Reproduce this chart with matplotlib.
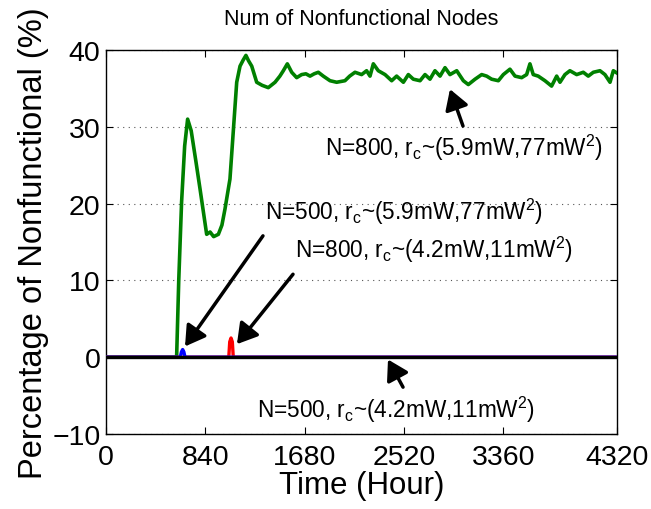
import matplotlib
matplotlib.use("Agg")
import matplotlib.pyplot as plt

plt.rcParams['font.family'] = ['Liberation Sans', 'DejaVu Sans']
plt.rcParams['mathtext.fontset'] = 'custom'
plt.rcParams['mathtext.rm'] = 'Liberation Sans'
plt.rcParams['mathtext.it'] = 'Liberation Sans'

# N=800, rc~(5.9mW,77mW^2)
green_h = [0, 597, 615, 639, 665, 690, 720, 760, 795, 851, 880, 910, 950, 980, 1006, 1048,
           1105, 1133, 1160, 1183, 1205, 1232, 1274, 1320, 1372, 1429, 1470, 1499, 1533,
           1570, 1612, 1654, 1690, 1725, 1760, 1795, 1837, 1894, 1950, 2020, 2060, 2105,
           2161, 2203, 2232, 2260, 2302, 2359, 2415, 2457, 2514, 2556, 2598, 2655, 2697,
           2739, 2781, 2824, 2866, 2908, 2965, 3021, 3063, 3120, 3176, 3218, 3260, 3317,
           3359, 3415, 3458, 3514, 3556, 3584, 3612, 3654, 3711, 3767, 3810, 3838, 3880,
           3922, 3979, 4035, 4077, 4120, 4176, 4218, 4261, 4289, 4320]
green_v = [0, 0, 10.0, 20.2, 27.5, 31.0, 29.5, 25.5, 21.9, 16.0, 16.3, 15.7, 16.0, 17.2,
           19.3, 23.2, 35.8, 37.9, 38.7, 39.3, 38.6, 37.9, 35.8, 35.4, 35.1, 35.8, 36.6,
           37.3, 38.2, 37.1, 36.4, 36.8, 36.9, 36.6, 36.9, 37.1, 36.6, 36.0, 35.8, 36.0,
           36.6, 37.1, 36.8, 37.3, 36.6, 38.2, 37.3, 36.8, 36.0, 36.6, 35.8, 36.8, 36.2,
           36.0, 36.8, 36.2, 37.3, 36.6, 37.7, 36.8, 37.3, 36.0, 35.5, 36.2, 36.8, 36.6,
           36.2, 36.0, 36.8, 37.5, 36.6, 36.4, 36.8, 38.2, 36.8, 36.6, 36.0, 35.3, 36.6,
           35.8, 36.8, 37.3, 36.8, 37.1, 36.6, 37.1, 37.3, 36.8, 35.8, 37.3, 37.0]

# N=500, rc~(5.9mW,77mW^2)
blue_h = [0, 628, 638, 648, 658, 668, 4320]
blue_v = [0, 0, 0.7, 1.0, 0.7, 0, 0]

# N=800, rc~(4.2mW,11mW^2)
red_h = [0, 1038, 1046, 1057, 1068, 1076, 4320]
red_v = [0, 0, 2.0, 2.5, 2.0, 0, 0]

# N=500, rc~(4.2mW,11mW^2)
black_h = [0, 4320]
black_v = [0, 0]

xticks = [0, 840, 1680, 2520, 3360, 4320]
yticks = [-10, 0, 10, 20, 30, 40]

fig = plt.figure(figsize=(6.51, 5.10), dpi=100)
ax = fig.add_axes([106/651, 1-435/510, 511/651, 384/510])

ax.plot(green_h, green_v, color='#008000', lw=2.6, zorder=3)
ax.plot(red_h, red_v, color='red', lw=2.4, zorder=4)
ax.plot(blue_h, blue_v, color='blue', lw=2.4, zorder=4)
ax.plot(black_h, black_v, color='black', lw=2.4, zorder=5)

ax.set_xlim(0, 4320)
ax.set_ylim(-10, 40)
ax.set_xticks(xticks)
ax.set_yticks(yticks)
ax.tick_params(direction='in', length=5, width=0.8, top=True, right=True,
               labelsize=20.5)
ax.tick_params(axis='x', pad=7)
ax.tick_params(axis='y', pad=4)
ax.yaxis.grid(True, linestyle=(0, (1, 4)), color='#555555', lw=0.8)
for s in ax.spines.values():
    s.set_linewidth(1.0)

ax.set_title('Num of Nonfunctional Nodes', fontsize=15.5, pad=19)
ax.set_xlabel('Time (Hour)', fontsize=22.5, labelpad=0)
ax.set_ylabel('Percentage of Nonfunctional (%)', fontsize=23.5, labelpad=2)

lab1 = r'N=800, r$_\mathregular{c}$~(5.9mW,77mW$^\mathregular{2}$)'
lab2 = r'N=500, r$_\mathregular{c}$~(5.9mW,77mW$^\mathregular{2}$)'
lab3 = r'N=800, r$_\mathregular{c}$~(4.2mW,11mW$^\mathregular{2}$)'
lab4 = r'N=500, r$_\mathregular{c}$~(4.2mW,11mW$^\mathregular{2}$)'

tfs = 16.3
ax.text(1851, 26.4, lab1, fontsize=tfs, ha='left', va='baseline', zorder=6)
ax.text(1344, 18.0, lab2, fontsize=tfs, ha='left', va='baseline', zorder=6)
ax.text(1598, 13.0, lab3, fontsize=tfs, ha='left', va='baseline', zorder=6)
ax.text(1277, -7.8, lab4, fontsize=tfs, ha='left', va='baseline', zorder=6)

ap = dict(arrowstyle='-|>,head_length=0.5,head_width=0.3', lw=2.5, color='black',
          mutation_scale=24, shrinkA=0, shrinkB=0)
ax.annotate('', xy=(2908, 34.9), xytext=(3018, 30.1), arrowprops=ap, zorder=7)
ax.annotate('', xy=(668, 1.4), xytext=(1327, 15.8), arrowprops=ap, zorder=7)
ax.annotate('', xy=(1107, 1.7), xytext=(1581, 10.8), arrowprops=ap, zorder=7)
ax.annotate('', xy=(2384, -0.3), xytext=(2511, -3.9), arrowprops=ap, zorder=7)

fig.savefig('out.png', dpi=100)
